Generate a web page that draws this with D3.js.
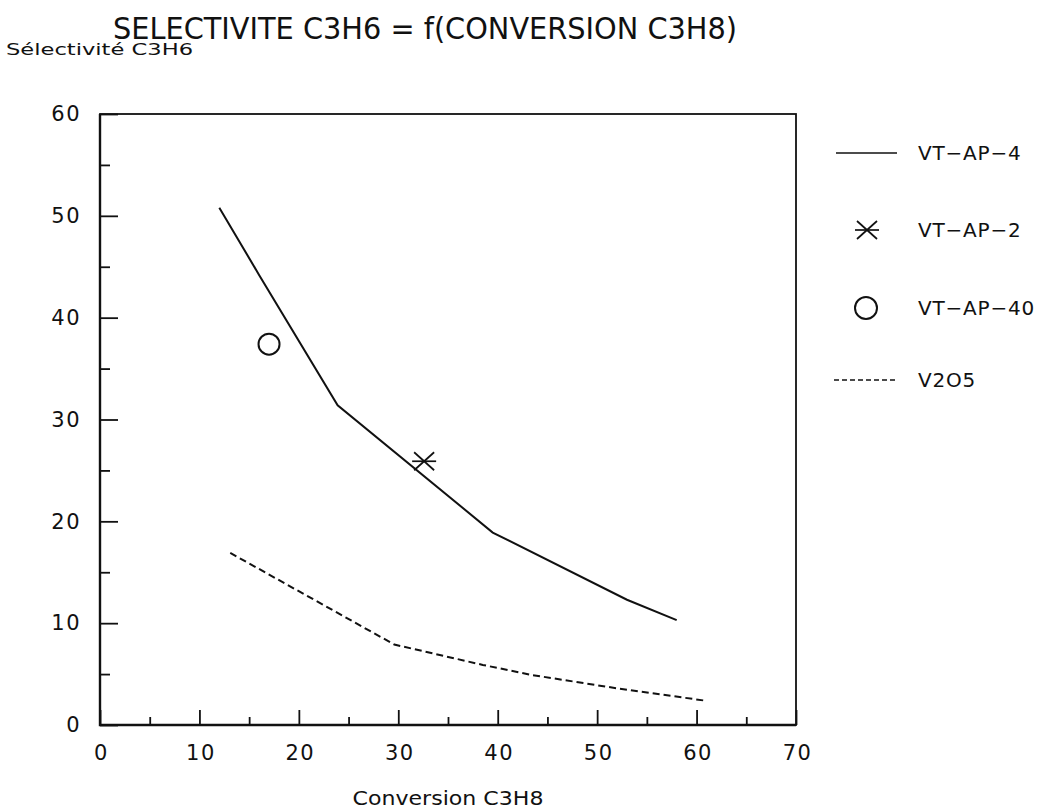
<!DOCTYPE html>
<html>
<head>
<meta charset="utf-8">
<script src="https://cdn.jsdelivr.net/npm/d3@7"></script>
<style>
  body { margin: 0; background: #fff; }
  svg text { font-family: "DejaVu Sans", sans-serif; fill: #111; }
</style>
</head>
<body>
<script>
// data
var xTicks = [0, 10, 20, 30, 40, 50, 60, 70];
var yTicks = [0, 10, 20, 30, 40, 50, 60];
var vtap4X = [12.0, 16.0, 23.9, 39.5, 53.0, 58.0];
var vtap4Y = [50.8, 44.2, 31.4, 18.9, 12.3, 10.3];
var vtap2X = [32.6];
var vtap2Y = [25.9];
var vtap40X = [17.0];
var vtap40Y = [37.4];
var v2o5X = [13.1, 29.6, 38.5, 43.5, 52.0, 60.8];
var v2o5Y = [16.9, 7.9, 5.9, 4.9, 3.6, 2.4];
var legendNames = ["VT\u2212AP\u22124", "VT\u2212AP\u22122", "VT\u2212AP\u221240", "V2O5"];

var width = 1043, height = 809;
var svg = d3.select("body").append("svg")
  .attr("width", width)
  .attr("height", height);

var x = d3.scaleLinear().domain([0, 70]).range([100, 796]);
var y = d3.scaleLinear().domain([0, 60]).range([725, 114]);

// titles
svg.append("text")
  .attr("x", 113).attr("y", 39)
  .attr("font-size", 31)
  .attr("textLength", 624).attr("lengthAdjust", "spacingAndGlyphs")
  .text("SELECTIVITE C3H6 = f(CONVERSION C3H8)");
svg.append("text")
  .attr("x", 6).attr("y", 55)
  .attr("font-size", 16)
  .attr("textLength", 187).attr("lengthAdjust", "spacingAndGlyphs")
  .text("S\u00e9lectivit\u00e9 C3H6");

// frame
svg.append("rect")
  .attr("x", x(0)).attr("y", y(60))
  .attr("width", x(70) - x(0)).attr("height", y(0) - y(60))
  .attr("fill", "none").attr("stroke", "#111").attr("stroke-width", 1.8);
svg.append("path")
  .attr("d", "M" + x(0) + "," + y(60) + "V" + y(0) + "H" + x(70))
  .attr("fill", "none").attr("stroke", "#111").attr("stroke-width", 2.4);

// y axis: major ticks with labels, minor ticks at the 5s
var yAxis = svg.append("g").attr("transform", "translate(" + x(0) + ",0)")
  .call(d3.axisLeft(y).tickValues(yTicks).tickSize(-18).tickPadding(19));
var yMinor = svg.append("g").attr("transform", "translate(" + x(0) + ",0)")
  .call(d3.axisLeft(y).tickValues(d3.range(5, 60, 10)).tickSize(-10).tickFormat(""));

// x axis
var xAxis = svg.append("g").attr("transform", "translate(0," + y(0) + ")")
  .call(d3.axisBottom(x).tickValues(xTicks).tickSize(-15).tickPadding(20));
var xMinor = svg.append("g").attr("transform", "translate(0," + y(0) + ")")
  .call(d3.axisBottom(x).tickValues(d3.range(5, 70, 10)).tickSize(-8).tickFormat(""));

[yAxis, yMinor, xAxis, xMinor].forEach(function(g) {
  g.select(".domain").remove();
  g.selectAll("line").attr("stroke", "#111").attr("stroke-width", 1.8);
  g.selectAll("text").attr("font-size", 21).attr("letter-spacing", 1.5)
    .style("font-family", "DejaVu Sans").attr("fill", "#111");
});
xAxis.selectAll("text").attr("dx", 1);

svg.append("text")
  .attr("x", 448).attr("y", 805)
  .attr("text-anchor", "middle")
  .attr("font-size", 19)
  .attr("textLength", 191).attr("lengthAdjust", "spacingAndGlyphs")
  .text("Conversion C3H8");

// lines
var line = d3.line().x(function(d) { return x(d[0]); }).y(function(d) { return y(d[1]); });
svg.append("path")
  .attr("d", line(d3.zip(vtap4X, vtap4Y)))
  .attr("fill", "none").attr("stroke", "#111").attr("stroke-width", 2);
svg.append("path")
  .attr("d", line(d3.zip(v2o5X, v2o5Y)))
  .attr("fill", "none").attr("stroke", "#111").attr("stroke-width", 2)
  .attr("stroke-dasharray", "7,4");

// star marker: a horizontal bar and two diagonals
function star(g, cx, cy) {
  g.append("line").attr("x1", cx - 12).attr("y1", cy).attr("x2", cx + 12).attr("y2", cy);
  g.append("line").attr("x1", cx - 10).attr("y1", cy - 9).attr("x2", cx + 10).attr("y2", cy + 9);
  g.append("line").attr("x1", cx - 10).attr("y1", cy + 9).attr("x2", cx + 10).attr("y2", cy - 9);
  g.selectAll("line").attr("stroke", "#111").attr("stroke-width", 1.7);
}
var stars = svg.append("g");
d3.zip(vtap2X, vtap2Y).forEach(function(d) { star(stars, x(d[0]), y(d[1])); });

svg.selectAll(".circ").data(d3.zip(vtap40X, vtap40Y)).enter().append("circle")
  .attr("cx", function(d) { return x(d[0]); })
  .attr("cy", function(d) { return y(d[1]); })
  .attr("r", 10.5)
  .attr("fill", "none").attr("stroke", "#111").attr("stroke-width", 2);

// legend
var legY = [153, 230, 308, 380];
var leg = svg.append("g");
leg.append("line").attr("x1", 836).attr("x2", 897).attr("y1", legY[0]).attr("y2", legY[0])
  .attr("stroke", "#111").attr("stroke-width", 1.8);
star(leg, 867, legY[1]);
leg.append("circle").attr("cx", 866).attr("cy", legY[2]).attr("r", 11)
  .attr("fill", "none").attr("stroke", "#111").attr("stroke-width", 2);
leg.append("line").attr("x1", 834).attr("x2", 897).attr("y1", legY[3]).attr("y2", legY[3])
  .attr("stroke", "#111").attr("stroke-width", 1.6).attr("stroke-dasharray", "5,3");
legendNames.forEach(function(name, i) {
  leg.append("text")
    .attr("x", 918).attr("y", legY[i] + 7)
    .attr("font-size", 20)
    .attr("letter-spacing", 0.8)
    .text(name);
});
</script>
</body>
</html>
